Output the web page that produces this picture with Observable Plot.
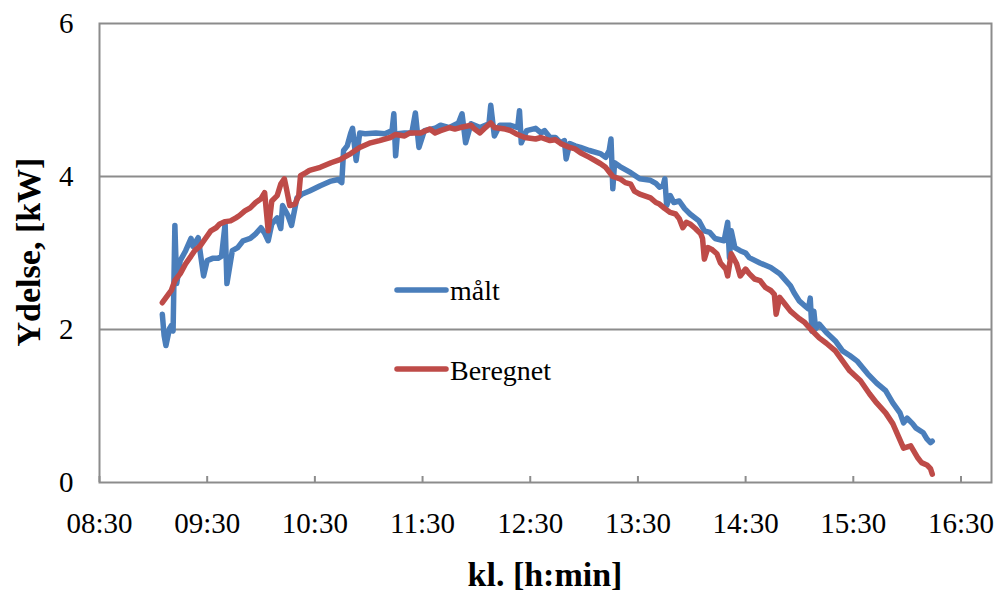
<!DOCTYPE html>
<html><head><meta charset="utf-8">
<script src="https://cdn.jsdelivr.net/npm/d3@7"></script>
<script src="https://cdn.jsdelivr.net/npm/@observablehq/plot@0.6"></script>
<style>
body{margin:0;background:#fff}
#chart{position:relative;width:997px;height:592px}
</style>
</head><body><div id="chart"></div>
<script>
// ---- data ----
const xTicks = ["08:30","09:30","10:30","11:30","12:30","13:30","14:30","15:30","16:30"];
const xDomain = ["08:30","16:47"];
const yTicks = [0, 2, 4, 6];
const yGrid = [2, 4];
const yDomain = [0, 6];
const seriesNames = ["målt", "Beregnet"];
const xTitle = "kl. [h:min]";
const yTitle = "Ydelse, [kW]";

const measuredTime = ["09:05","09:06","09:07","09:09","09:10","09:11","09:12","09:13","09:15","09:18",
"09:21","09:22","09:25","09:26","09:28","09:30","09:33","09:36","09:38","09:40",
"09:41","09:44","09:47","09:50","09:54","09:57","10:00","10:02","10:04","10:06",
"10:09","10:11","10:12","10:15","10:17","10:20","10:23","10:27","10:33","10:39",
"10:43","10:45","10:46","10:48","10:50","10:51","10:53","10:55","10:58","11:04",
"11:09","11:13","11:14","11:15","11:16","11:20","11:24","11:26","11:28","11:31",
"11:37","11:40","11:45","11:50","11:52","11:54","11:57","12:02","12:07","12:08",
"12:10","12:13","12:19","12:23","12:24","12:25","12:28","12:33","12:36","12:38",
"12:41","12:44","12:47","12:49","12:50","12:52","12:55","12:58","13:03","13:09",
"13:12","13:14","13:15","13:16","13:17","13:20","13:26","13:31","13:37","13:40",
"13:42","13:44","13:45","13:46","13:48","13:50","13:53","13:56","13:59","14:04",
"14:07","14:10","14:13","14:18","14:20","14:21","14:22","14:24","14:27","14:30",
"14:32","14:38","14:44","14:49","14:55","14:57","15:00","15:03","15:05","15:06",
"15:07","15:08","15:09","15:11","15:15","15:20","15:24","15:28","15:32","15:38",
"15:43","15:48","15:52","15:56","15:58","16:00","16:03","16:05","16:09","16:11",
"16:13","16:14"];
const measuredKW = [2.20,1.92,1.79,2.01,2.05,1.98,3.36,2.60,2.90,3.03,
3.19,3.09,3.20,3.03,2.70,2.90,2.93,2.93,2.96,3.38,
2.60,3.03,3.07,3.16,3.19,3.25,3.33,3.26,3.16,3.38,
3.46,3.32,3.62,3.49,3.36,3.72,3.77,3.81,3.88,3.94,
3.96,3.92,4.34,4.40,4.57,4.63,4.21,4.57,4.56,4.57,
4.56,4.60,4.82,4.27,4.56,4.57,4.57,4.83,4.38,4.60,
4.63,4.67,4.64,4.70,4.82,4.44,4.69,4.64,4.69,4.93,
4.53,4.67,4.67,4.64,4.86,4.44,4.60,4.63,4.57,4.60,
4.51,4.51,4.44,4.47,4.23,4.43,4.40,4.38,4.34,4.30,
4.25,4.34,4.49,3.84,4.18,4.13,4.05,3.97,3.95,3.91,
3.86,3.88,3.97,3.62,3.75,3.66,3.68,3.58,3.51,3.42,
3.29,3.27,3.19,3.16,3.40,2.94,3.29,3.07,3.03,3.00,
2.94,2.87,2.81,2.73,2.57,2.48,2.37,2.31,2.27,2.41,
1.98,2.24,2.01,2.07,1.96,1.85,1.72,1.66,1.59,1.42,
1.30,1.20,1.04,0.91,0.78,0.84,0.77,0.71,0.65,0.57,
0.52,0.54];

const computedTime = ["09:05","09:10","09:12","09:15","09:18","09:21","09:23","09:26","09:29","09:32",
"09:35","09:37","09:40","09:43","09:46","09:48","09:51","09:54","09:57","10:00",
"10:02","10:04","10:06","10:09","10:11","10:13","10:14","10:16","10:19","10:21",
"10:22","10:25","10:27","10:33","10:39","10:44","10:50","10:55","11:01","11:06",
"11:12","11:15","11:20","11:23","11:29","11:34","11:37","11:40","11:45","11:48",
"11:51","11:57","11:59","12:02","12:05","12:08","12:10","12:16","12:19","12:22",
"12:27","12:33","12:36","12:41","12:44","12:47","12:52","12:55","12:58","13:03",
"13:09","13:12","13:16","13:20","13:23","13:26","13:28","13:31","13:37","13:40",
"13:42","13:45","13:48","13:51","13:53","13:55","13:57","13:59","14:02","14:05",
"14:06","14:07","14:09","14:11","14:14","14:16","14:19","14:20","14:22","14:25",
"14:27","14:30","14:32","14:35","14:38","14:41","14:44","14:46","14:47","14:49",
"14:52","14:55","14:58","15:00","15:03","15:06","15:11","15:15","15:20","15:24",
"15:28","15:34","15:39","15:43","15:48","15:52","15:55","15:58","16:02","16:06",
"16:08","16:11","16:13","16:14"];
const computedKW = [2.35,2.51,2.64,2.73,2.86,2.96,3.03,3.09,3.19,3.29,
3.33,3.38,3.41,3.42,3.46,3.49,3.55,3.59,3.66,3.71,
3.79,3.29,3.68,3.75,3.90,3.97,3.86,3.62,3.64,3.75,
4.01,4.05,4.08,4.12,4.18,4.22,4.30,4.38,4.44,4.47,
4.51,4.55,4.53,4.57,4.57,4.62,4.57,4.60,4.64,4.62,
4.64,4.67,4.62,4.57,4.64,4.70,4.64,4.62,4.60,4.56,
4.51,4.49,4.51,4.47,4.48,4.43,4.38,4.36,4.31,4.25,
4.17,4.12,4.00,3.97,3.92,3.90,3.81,3.77,3.72,3.66,
3.64,3.58,3.53,3.51,3.45,3.33,3.40,3.38,3.32,3.25,
3.19,2.92,3.07,3.05,2.99,2.87,2.79,2.70,2.99,2.86,
2.70,2.79,2.73,2.66,2.64,2.55,2.51,2.46,2.20,2.42,
2.33,2.24,2.18,2.14,2.09,2.01,1.89,1.82,1.72,1.59,
1.46,1.33,1.16,1.04,0.91,0.77,0.61,0.45,0.48,0.32,
0.26,0.23,0.18,0.11];

// ---- build ----
const toH = s => { const [h, m] = s.split(":").map(Number); return h + m / 60; };
const fmtH = d => { const h = Math.floor(d + 1e-6); const m = Math.round((d - h) * 60); return String(h).padStart(2, "0") + ":" + String(m).padStart(2, "0"); };
const measured = measuredTime.map((t, i) => ({t: toH(t), kW: measuredKW[i]}));
const computed = computedTime.map((t, i) => ({t: toH(t), kW: computedKW[i]}));

const FONT = '"Liberation Serif", "Times New Roman", serif';
const GRID = "#8c8c8c";
const BLUE = "#4A7EBB";
const RED = "#BE4B48";

const plot = Plot.plot({
  width: 997, height: 592,
  marginLeft: 99, marginRight: 6, marginTop: 23, marginBottom: 110,
  style: {fontFamily: FONT, background: "#fff", color: "#000", overflow: "visible"},
  x: {type: "linear", domain: xDomain.map(toH), label: null},
  y: {domain: yDomain, label: null},
  marks: [
    Plot.gridY(yGrid, {stroke: GRID, strokeOpacity: 1, strokeWidth: 2}),
    Plot.frame({stroke: GRID, strokeWidth: 2}),
    Plot.axisX(xTicks.map(toH), {tickSize: 6, dy: -6, tickFormat: () => "", stroke: GRID, strokeWidth: 2, label: null}),
    Plot.axisX(xTicks.map(toH), {tickSize: 0, tickPadding: 30, tickFormat: fmtH, fontSize: 29, label: null}),
    Plot.axisY(yTicks, {tickSize: 0, tickPadding: 26, tickFormat: d => String(d), fontSize: 29, label: null}),
    Plot.line(measured, {x: "t", y: "kW", stroke: BLUE, strokeWidth: 5.5, strokeLinejoin: "round", strokeLinecap: "round"}),
    Plot.line(computed, {x: "t", y: "kW", stroke: RED, strokeWidth: 5.5, strokeLinejoin: "round", strokeLinecap: "round"})
  ]
});
document.getElementById("chart").appendChild(plot);

// titles and legend
const svg = d3.select(plot);
const g = svg.append("g").attr("font-family", FONT).attr("fill", "#000");
g.append("text").attr("x", 545).attr("y", 586).attr("text-anchor", "middle")
  .attr("font-size", 34).attr("font-weight", "bold").text(xTitle);
g.append("text").attr("transform", "translate(40,252) rotate(-90)").attr("text-anchor", "middle")
  .attr("font-size", 34).attr("font-weight", "bold").text(yTitle);

const legend = [
  {name: seriesNames[0], color: BLUE, ly: 290, ty: 300},
  {name: seriesNames[1], color: RED, ly: 369, ty: 380}
];
legend.forEach(d => {
  g.append("line").attr("x1", 397).attr("x2", 446).attr("y1", d.ly).attr("y2", d.ly)
    .attr("stroke", d.color).attr("stroke-width", 5.5).attr("stroke-linecap", "round");
  g.append("text").attr("x", 450).attr("y", d.ty).attr("text-anchor", "start")
    .attr("font-size", 28).text(d.name);
});
</script>
</body></html>
